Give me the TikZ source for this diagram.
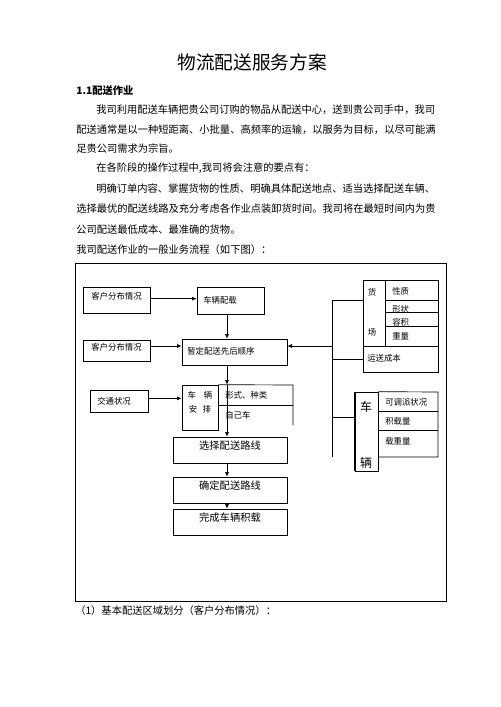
\documentclass[tikz,border=0pt]{standalone}
\usepackage{fontspec}
\setmainfont{Noto Sans CJK SC}
\usetikzlibrary{arrows.meta,calc,fit}
\begin{document}
\begin{tikzpicture}[x=0.75pt,y=-0.75pt,
  ln/.style={line width=0.5pt},
  box/.style={draw,line width=0.5pt,inner sep=0pt},
  arr/.style={line width=0.5pt,-{Latex[length=3.5pt,width=3pt]}},
  body/.style={anchor=west,inner sep=0pt,font=\fontsize{7.7pt}{9pt}\selectfont},
  sm/.style={inner sep=0pt,font=\fontsize{6.3pt}{7.5pt}\selectfont},
  smw/.style={sm,anchor=west},
  md/.style={font=\fontsize{7.7pt}{9pt}\selectfont},
  big/.style={inner sep=0pt,font=\fontsize{9pt}{10pt}\selectfont}]
\useasboundingbox (0,0) rectangle (500,707);

% ---- text ----
\node[inner sep=0pt,font=\fontsize{14pt}{16pt}\selectfont] (title) at (252,62) {物流配送服务方案};
\node[body,font=\fontsize{7.7pt}{9pt}\selectfont\bfseries] (h11) at (76,91) {1.1配送作业};
\node[body] (p1) at (96,110) {我司利用配送车辆把贵公司订购的物品从配送中心，送到贵公司手中，我司};
\node[body] (p2) at (76,129.5) {配送通常是以一种短距离、小批量、高频率的运输，以服务为目标，以尽可能满};
\node[body] (p3) at (76,148.5) {足贵公司需求为宗旨。};
\node[body] (p4) at (96,168.5) {在各阶段的操作过程中,我司将会注意的要点有：};
\node[body] (p5) at (96,188.5) {明确订单内容、掌握货物的性质、明确具体配送地点、适当选择配送车辆、};
\node[body] (p6) at (76,208.5) {选择最优的配送线路及充分考虑各作业点装卸货时间。我司将在最短时间内为贵};
\node[body] (p7) at (76,230) {公司配送最低成本、最准确的货物。};
\node[body] (p8) at (76,250) {我司配送作业的一般业务流程（如下图）：};
\node[body] (cap) at (75,611) {（1）基本配送区域划分（客户分布情况）：};

% ---- frame ----
\node[box,fit={(75,263)(446,601)}] (frame) {};
\draw[line width=1pt] (frame.north east) -- (frame.south east) -- (frame.south west);

% ---- left flow ----
\node[box,fit={(83,287)(150,313)},sm] (kh1) {客户分布情况};
\node[box,fit={(197,287)(264,314)}] (cl) {};
\node[smw] (clt) at (203,300) {车辆配载};
\node[box,fit={(83,340)(150,361)},sm] (kh2) {客户分布情况};
\node[box,fit={(182,339)(287,365)}] (zd) {};
\node[smw] (zdt) at (187,351) {暂定配送先后顺序};
\node[box,fit={(90,390)(148,412)}] (jt) {};
\node[smw] (jtt) at (97,401) {交通状况};
\node[box,fit={(182,385)(218,430)}] (clap) {};
\node[sm] (clap1) at (200,395.5) {车\hspace{6pt}辆};
\node[sm] (clap2) at (200,409) {安\hspace{4pt}排};
\draw[ln] (clap.north east) -- (293,385) -- (293,425);
\draw[ln] (218,405) -- (293,405);
\node[smw] (xs) at (225,395) {形式、种类};
\node[smw] (zj) at (225,415) {自己车};

\node[box,fit={(173,437)(287,463)},md] (xz) {选择配送路线};
\node[box,fit={(173,477)(287,503)},md] (qd) {确定配送路线};
\node[box,fit={(173,509)(287,535)},md] (wc) {完成车辆积载};

\coordinate (sp) at (227,0);
\draw[arr] (cl.south -| sp) -- (zd.north -| sp);
\draw[arr] (zd.south -| sp) -- (clap.north -| sp);
\draw[arr] (clap.north -| sp) -- (xz.north -| sp);
\draw[arr] (xz.south -| sp) -- (qd.north -| sp);
\draw[arr] (qd.south -| sp) -- (wc.north -| sp);

\draw[arr] ([yshift=1pt]kh1.east) -- ([yshift=1pt]kh1.east -| cl.west);
\draw[arr] ([yshift=3.4pt]kh2.east) -- ([yshift=3.4pt]kh2.east -| zd.west);
\draw[arr] ([yshift=2pt]jt.east) -- ([yshift=2pt]jt.east -| clap.west);

% ---- right group: goods ----
\node[box,fit={(363,280)(438,372)}] (hc) {};
\draw[ln] (385,280) -- (385,346);
\draw[ln] (363,346) -- (438,346);
\draw[ln] (385,300) -- (438,300);
\draw[ln] (385,312.7) -- (438,312.7);
\draw[ln] (385,326) -- (438,326);
\node[sm] (huo) at (372,292) {货};
\node[sm] (chang) at (372,332) {场};
\node[smw] (xz1) at (392,291.5) {性质};
\node[smw] (xz2) at (392,309.5) {形状};
\node[smw] (xz3) at (392,322.5) {容积};
\node[smw] (xz4) at (392,336.5) {重量};
\node[smw] (ys) at (367,358) {运送成本};

% ---- right group: vehicle ----
\node[box,fit={(355,392)(378,471)}] (cv) {};
\draw[line width=1pt] (cv.north west) -- (cv.south west);
\draw[ln] (cv.north east) -- (438,392) -- (438,457) -- (378,457);
\draw[ln] (378,411) -- (438,411);
\draw[ln] (378,430) -- (438,430);
\node[big] (che) at (366,407) {车};
\node[big] (liang) at (366,463) {辆};
\node[smw] (v1) at (385,402) {可调派状况};
\node[smw] (v2) at (385,421) {积载量};
\node[smw] (v3) at (385,441) {载重量};

% ---- bus ----
\coordinate (bt) at (332.5,300);
\coordinate (bm) at (332.5,359);
\coordinate (bv) at (332.5,417);
\coordinate (ba) at (332.5,346);
\coordinate (bb) at (332.5,457);
\draw[ln] (bt) -- (bb);
\draw[ln] (bt) -- (bt -| hc.west);
\draw[ln] (bm) -- (bm -| hc.west);
\draw[ln] (bv) -- (bv -| cv.west);
\draw[arr] (ba) -- (ba -| zd.east);
\end{tikzpicture}
\end{document}
